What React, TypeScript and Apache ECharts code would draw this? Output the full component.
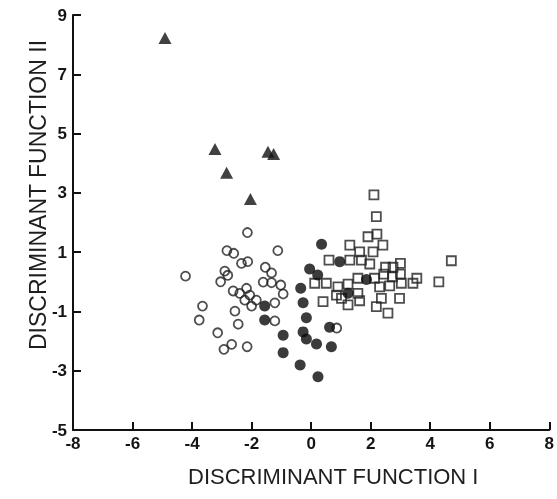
import React, { useEffect, useRef } from "react";
import * as echarts from "echarts";

const xTicks = [-8, -6, -4, -2, 0, 2, 4, 6, 8];
const yTicks = [-5, -3, -1, 1, 3, 5, 7, 9];
const xTitle = "DISCRIMINANT FUNCTION I";
const yTitle = "DISCRIMINANT FUNCTION II";

// filled triangles
const triangles = [
  [-4.91, 8.22], [-3.23, 4.48], [-2.84, 3.68], [-1.45, 4.39], [-1.26, 4.31], [-2.04, 2.79],
];

// open circles
const openCircles = [
  [-2.14, 1.66], [-2.83, 1.05], [-2.6, 0.96], [-1.12, 1.05], [-2.34, 0.62], [-2.13, 0.68],
  [-2.9, 0.36], [-2.8, 0.22], [-1.54, 0.49], [-4.22, 0.19], [-3.04, 0.0], [-1.33, 0.3],
  [-1.61, -0.01], [-1.33, -0.03], [-1.02, -0.11], [-2.62, -0.31], [-2.17, -0.22], [-2.4, -0.39],
  [-2.06, -0.45], [-0.94, -0.41], [-2.23, -0.62], [-1.84, -0.62], [-2.0, -0.82], [-1.22, -0.71],
  [-3.65, -0.82], [-2.56, -0.99], [-3.76, -1.29], [-2.45, -1.43], [-1.22, -1.32], [-3.14, -1.72],
  [-2.67, -2.11], [-2.93, -2.28], [-2.15, -2.19], [0.86, -1.56],
];

// filled circles
const filledCircles = [
  [0.35, 1.27], [0.96, 0.68], [-0.05, 0.43], [0.22, 0.23], [1.86, 0.08], [-0.35, -0.22],
  [1.24, -0.39], [-1.56, -0.82], [-0.27, -0.71], [-1.56, -1.29], [-0.16, -1.21], [0.62, -1.53],
  [-0.94, -1.8], [-0.27, -1.69], [-0.16, -1.93], [0.18, -2.1], [0.68, -2.19], [-0.94, -2.39],
  [-0.37, -2.81], [0.23, -3.2],
];

// open squares
const openSquares = [
  [2.11, 2.93], [2.19, 2.2], [1.91, 1.52], [2.21, 1.61], [1.3, 1.24], [1.63, 1.01],
  [2.41, 1.24], [2.08, 1.01], [0.6, 0.73], [1.3, 0.73], [1.69, 0.73], [1.97, 0.6],
  [2.5, 0.49], [3.0, 0.62], [2.75, 0.49], [2.44, 0.26], [3.0, 0.26], [2.73, 0.17],
  [4.71, 0.71], [0.12, -0.05], [0.51, -0.05], [0.9, -0.17], [1.24, -0.08], [1.57, 0.12],
  [2.13, 0.12], [2.3, -0.17], [2.64, -0.14], [3.03, -0.05], [3.55, 0.12], [3.42, -0.05],
  [4.29, 0.0], [0.85, -0.45], [1.57, -0.39], [1.63, -0.64], [1.02, -0.56], [0.4, -0.67],
  [1.24, -0.78], [2.36, -0.56], [2.97, -0.56], [2.19, -0.84], [2.58, -1.06],
];

const FONT = "'Liberation Sans', Arial, Helvetica, sans-serif";

export default function App() {
  const ref = useRef<HTMLDivElement>(null);
  useEffect(() => {
    const chart = echarts.init(ref.current!, null, { renderer: "svg" });
    const labelBase = () => ({ color: "#151515", fontSize: 17, fontWeight: "bold", fontFamily: FONT });
    chart.setOption({
      animation: false,
      grid: { left: 73, right: 7, top: 15, bottom: 69 },
      xAxis: {
        type: "value",
        min: xTicks[0],
        max: xTicks[xTicks.length - 1],
        interval: 2,
        axisLine: { show: true, onZero: false, lineStyle: { color: "#111", width: 2 } },
        axisTick: { show: true, inside: true, length: 8, lineStyle: { color: "#111", width: 2 } },
        axisLabel: { ...labelBase(), margin: 5 },
        splitLine: { show: false },
      },
      yAxis: {
        type: "value",
        min: yTicks[0],
        max: yTicks[yTicks.length - 1],
        axisLine: { show: true, onZero: false, lineStyle: { color: "#111", width: 2 } },
        axisTick: { show: true, inside: true, length: 8, lineStyle: { color: "#111", width: 2 }, customValues: yTicks },
        axisLabel: { ...labelBase(), margin: 6, customValues: yTicks },
        splitLine: { show: false },
      },
      graphic: [
        {
          type: "text",
          x: 188,
          y: 476,
          style: { text: xTitle, fontSize: 22, fontFamily: FONT, fill: "#1e1e1e", align: "left", verticalAlign: "middle" },
        },
        {
          type: "text",
          x: 38,
          y: 195,
          rotation: Math.PI / 2,
          style: { text: yTitle, fontSize: 23, fontFamily: FONT, fill: "#1e1e1e", align: "center", verticalAlign: "middle" },
        },
      ],
      series: [
        {
          type: "scatter",
          data: openCircles,
          symbol: "circle",
          symbolSize: 9,
          itemStyle: { color: "rgba(0,0,0,0)", borderColor: "#222", borderWidth: 1.8 },
        },
        {
          type: "scatter",
          data: openSquares,
          symbol: "rect",
          symbolSize: 9,
          itemStyle: { color: "rgba(0,0,0,0)", borderColor: "#222", borderWidth: 1.8 },
        },
        {
          type: "scatter",
          data: filledCircles,
          symbol: "circle",
          symbolSize: 11,
          itemStyle: { color: "#0a0a0a" },
        },
        {
          type: "scatter",
          data: triangles,
          symbol: "triangle",
          symbolSize: [13, 12],
          itemStyle: { color: "#111" },
        },
      ],
    });
    return () => chart.dispose();
  }, []);
  return <div ref={ref} style={{ position: "fixed", left: 0, top: 0, width: 557, height: 499 }} />;
}
